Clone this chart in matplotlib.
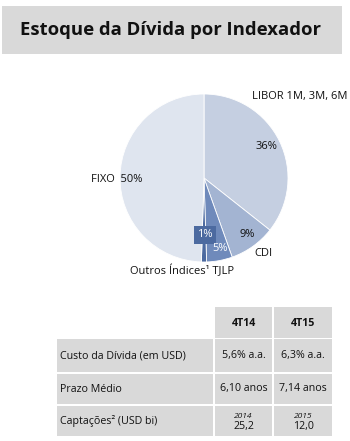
import matplotlib.pyplot as plt
from matplotlib.patches import Rectangle

W, H = 350, 441

# pie data (clockwise from top)
labels = ['LIBOR 1M, 3M, 6M', 'CDI', 'TJLP', 'Outros Índices¹', 'FIXO']
shares = [36, 9, 5, 1, 50]
colors = ['#c5cfe1', '#a3b4d2', '#6f8abb', '#4c6aa0', '#dfe5ef']

# table data
col_heads = ['4T14', '4T15']
row_heads = ['Custo da Dívida (em USD)', 'Prazo Médio', 'Captações² (USD bi)']
col_4t14 = ['5,6% a.a.', '6,10 anos', '25,2']
col_4t15 = ['6,3% a.a.', '7,14 anos', '12,0']
years = ['2014', '2015']

plt.rcParams['font.family'] = ['Open Sans', 'DejaVu Sans']

fig = plt.figure(figsize=(W / 100, H / 100), dpi=100)


def fx(x):
    return x / W


def fy(y):
    return 1 - y / H


def txt(x, y, s, **kw):
    kw.setdefault('fontsize', 7.7)
    kw.setdefault('color', '#111111')
    kw.setdefault('va', 'center')
    fig.text(fx(x), fy(y), s, **kw)


def box(x0, y0, x1, y1, color):
    fig.add_artist(Rectangle((fx(x0), fy(y1)), (x1 - x0) / W, (y1 - y0) / H,
                             transform=fig.transFigure, facecolor=color,
                             edgecolor='none'))


# title
box(2, 6, 342, 54, '#d9d9d9')
txt(170, 30, 'Estoque da Dívida por Indexador', fontsize=13.3,
    fontweight='bold', ha='center', color='#111111')

# pie
cx, cy, r = 204, 178, 84
ax = fig.add_axes([fx(cx - r), fy(cy + r), 2 * r / W, 2 * r / H])
ax.pie(shares, colors=colors, startangle=90, counterclock=False,
       wedgeprops=dict(linewidth=0.6, edgecolor='white'))
ax.set_xlim(-1, 1)
ax.set_ylim(-1, 1)
ax.set_aspect('equal')
ax.axis('off')

txt(252, 97, labels[0], ha='left', fontsize=8)
txt(266, 147, '36%', ha='center', fontsize=8)
txt(91, 179, 'FIXO  50%', ha='left', fontsize=8)
txt(247, 235, '9%', ha='center', fontsize=8)
txt(263, 254, labels[1], ha='center', fontsize=8)
txt(205, 235, '1%', ha='center', color='white', fontsize=8,
    bbox=dict(boxstyle='square,pad=0.3', facecolor='#4c6aa0', edgecolor='none'))
txt(220, 249, '5%', ha='center', color='white', fontsize=8)
txt(130, 271, labels[3] + ' ' + labels[2], ha='left', fontsize=8)

# table
cell = '#d9d9d9'
col_x = [(215, 272), (274, 332)]
rows_y = [(339, 372), (374, 404), (406, 436)]
for (x0, x1), head in zip(col_x, col_heads):
    box(x0, 307, x1, 338, cell)
    txt((x0 + x1) / 2, 323, head, ha='center', fontweight='bold')
for i, (y0, y1) in enumerate(rows_y):
    box(57, y0, 213, y1, cell)
    txt(60, (y0 + y1) / 2, row_heads[i], ha='left')
    for j, vals in enumerate([col_4t14, col_4t15]):
        x0, x1 = col_x[j]
        box(x0, y0, x1, y1, cell)
        xm = (x0 + x1) / 2
        if i == 2:
            txt(xm, y0 + 10, years[j], ha='center', fontsize=6, style='italic')
            txt(xm, y0 + 21, vals[i], ha='center')
        else:
            txt(xm, (y0 + y1) / 2, vals[i], ha='center')

fig.savefig('out.png', dpi=100)
